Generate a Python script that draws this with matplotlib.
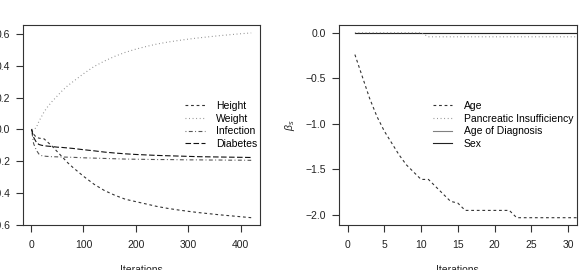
import matplotlib
matplotlib.use("Agg")
import matplotlib.pyplot as plt

plt.rcParams["font.family"] = ["Liberation Sans", "DejaVu Sans"]
plt.rcParams["mathtext.fontset"] = "custom"
plt.rcParams["mathtext.rm"] = "Liberation Sans"
plt.rcParams["mathtext.it"] = "Liberation Sans:italic"

# left panel: coefficient paths over iterations
iter_left = [1, 5, 10, 15, 20, 25, 30, 40, 50, 60, 70, 80, 100, 120, 140, 160,
             180, 200, 220, 240, 260, 280, 300, 320, 340, 360, 380, 400, 420]
height = [0, -0.03, -0.05, -0.055, -0.058, -0.06, -0.075, -0.105, -0.14, -0.175,
          -0.21, -0.24, -0.295, -0.345, -0.385, -0.415, -0.44, -0.455, -0.47,
          -0.485, -0.497, -0.507, -0.516, -0.524, -0.531, -0.538, -0.544, -0.55, -0.556]
weight = [0, 0.0, 0.01, 0.05, 0.08, 0.11, 0.135, 0.175, 0.21, 0.245, 0.275, 0.30,
          0.35, 0.395, 0.43, 0.46, 0.485, 0.505, 0.522, 0.537, 0.549, 0.559, 0.568,
          0.576, 0.583, 0.59, 0.596, 0.602, 0.607]
infection = [0, -0.09, -0.13, -0.155, -0.165, -0.168, -0.17, -0.172, -0.173, -0.174,
             -0.175, -0.176, -0.179, -0.181, -0.183, -0.185, -0.187, -0.188, -0.189,
             -0.19, -0.19, -0.191, -0.192, -0.192, -0.193, -0.193, -0.194, -0.194, -0.195]
diabetes = [0, -0.05, -0.08, -0.095, -0.1, -0.103, -0.105, -0.108, -0.112, -0.114,
            -0.117, -0.12, -0.128, -0.135, -0.143, -0.149, -0.154, -0.158, -0.161,
            -0.164, -0.166, -0.168, -0.17, -0.172, -0.173, -0.174, -0.175, -0.176, -0.177]

# right panel
iter_right = list(range(1, 33))
age = [-0.24, -0.48, -0.72, -0.92, -1.08, -1.21, -1.34, -1.45, -1.53, -1.61,
       -1.61, -1.69, -1.77, -1.85, -1.87, -1.95, -1.95, -1.95, -1.95, -1.95,
       -1.95, -1.95, -2.03, -2.03, -2.03, -2.03, -2.03, -2.03, -2.03, -2.03,
       -2.03, -2.03]
pancreatic = [0] * 10 + [-0.045] * 22
age_diag = [0] * 32
sex = [0] * 32

left_ticks_x = [0, 100, 200, 300, 400]
left_ticks_y = [-0.6, -0.4, -0.2, 0.0, 0.2, 0.4, 0.6]
right_ticks_x = [0, 5, 10, 15, 20, 25, 30]
right_ticks_y = [-2.0, -1.5, -1.0, -0.5, 0.0]

DASH = (0, (2.5, 2.5))
DOT = (0, (0.8, 2.4))
DOTDASH = (0, (0.8, 2.2, 3.5, 2.2))
LONGDASH = (0, (5, 2.2))

fig = plt.figure(figsize=(5.84, 2.70), dpi=100)
ax1 = fig.add_axes([0.0389, 0.1667, 0.4063, 0.7407])
ax2 = fig.add_axes([0.580, 0.1667, 0.408, 0.7407])

lw = 0.8
ax1.plot(iter_left, height, color="#333333", lw=lw, ls=DASH, label="Height")
ax1.plot(iter_left, weight, color="#8a8a8a", lw=lw, ls=DOT, label="Weight")
ax1.plot(iter_left, infection, color="#555555", lw=lw, ls=DOTDASH, label="Infection")
ax1.plot(iter_left, diabetes, color="#111111", lw=lw, ls=LONGDASH, label="Diabetes")
ax1.set_xlim(-15.8, 436.8)
ax1.set_ylim(-0.602, 0.657)
ax1.set_xticks(left_ticks_x)
ax1.set_yticks(left_ticks_y)
ax1.set_yticklabels([f"{v:.1f}" for v in left_ticks_y])

ax2.plot(iter_right, age, color="#333333", lw=lw, ls=DASH, label="Age")
ax2.plot(iter_right, age_diag, color="#808080", lw=lw, ls="-", label="Age of Diagnosis")
ax2.plot(iter_right, sex, color="#222222", lw=lw, ls="-", label="Sex")
ax2.plot(iter_right, pancreatic, color="#8a8a8a", lw=lw, ls=DOT,
         label="Pancreatic Insufficiency")
ax2.set_xlim(-1.2, 31.2)
ax2.set_ylim(-2.11, 0.0845)
ax2.set_xticks(right_ticks_x)
ax2.set_yticks(right_ticks_y)

for ax in (ax1, ax2):
    for sp in ax.spines.values():
        sp.set_color("#333333")
        sp.set_linewidth(0.8)
    ax.tick_params(direction="out", length=5, width=0.8, color="#333333",
                   labelsize=7.5, labelcolor="#222222")
    ax.tick_params(axis="x", pad=6)
    ax.tick_params(axis="y", pad=4)
    ax.set_xlabel("Iterations", fontsize=7.5, color="#222222")
    ax.xaxis.set_label_coords(0.5, -0.2)
    ax.set_ylabel(r"$\beta_s$", fontsize=7.5, color="#222222")
    ax.yaxis.set_label_coords(-0.175, 0.5)

h, l = ax1.get_legend_handles_labels()
ax1.legend(h, l, loc="upper left", bbox_to_anchor=(185 / 584, 1 - 101 / 270),
           bbox_transform=fig.transFigure, frameon=False, fontsize=7.5,
           handlelength=1.9, handletextpad=1.1, labelspacing=0.25,
           borderpad=0, borderaxespad=0)

h, l = ax2.get_legend_handles_labels()
order = [0, 3, 1, 2]
ax2.legend([h[i] for i in order], [l[i] for i in order], loc="upper left",
           bbox_to_anchor=(432.7 / 584, 1 - 101 / 270),
           bbox_transform=fig.transFigure, frameon=False, fontsize=7.5,
           handlelength=1.9, handletextpad=1.1, labelspacing=0.25,
           borderpad=0, borderaxespad=0)

fig.savefig("out.png", dpi=100, facecolor="white")
